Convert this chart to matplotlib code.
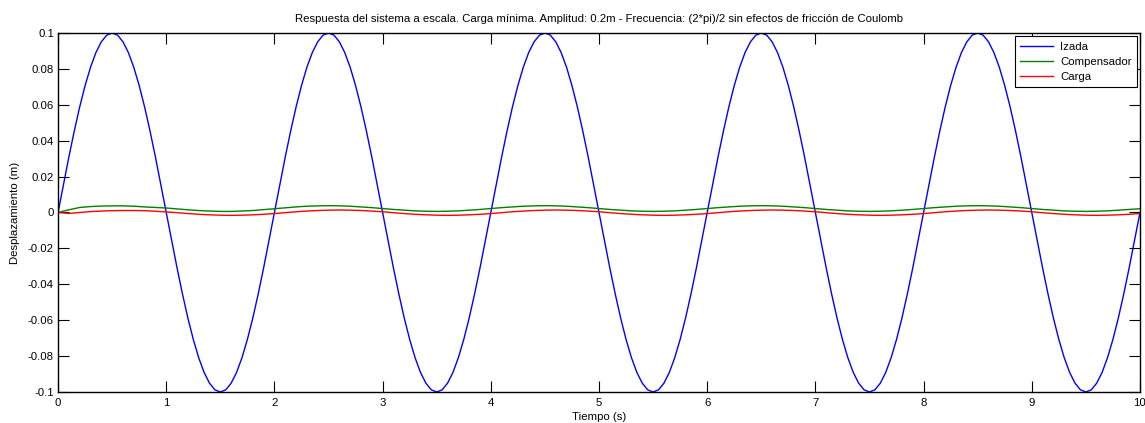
import matplotlib.pyplot as plt

plt.rcParams['font.family'] = ['Liberation Sans', 'DejaVu Sans']

# tiempo (s) para la izada, paso 0.05
t_izada = [i / 20 for i in range(201)]

# Izada (m)
izada = [
    0.0000, 0.0156, 0.0309, 0.0454, 0.0588, 0.0707, 0.0809, 0.0891, 0.0951, 0.0988,
    0.1000, 0.0988, 0.0951, 0.0891, 0.0809, 0.0707, 0.0588, 0.0454, 0.0309, 0.0156,
    0.0000, -0.0156, -0.0309, -0.0454, -0.0588, -0.0707, -0.0809, -0.0891, -0.0951, -0.0988,
    -0.1000, -0.0988, -0.0951, -0.0891, -0.0809, -0.0707, -0.0588, -0.0454, -0.0309, -0.0156,
    0.0000, 0.0156, 0.0309, 0.0454, 0.0588, 0.0707, 0.0809, 0.0891, 0.0951, 0.0988,
    0.1000, 0.0988, 0.0951, 0.0891, 0.0809, 0.0707, 0.0588, 0.0454, 0.0309, 0.0156,
    0.0000, -0.0156, -0.0309, -0.0454, -0.0588, -0.0707, -0.0809, -0.0891, -0.0951, -0.0988,
    -0.1000, -0.0988, -0.0951, -0.0891, -0.0809, -0.0707, -0.0588, -0.0454, -0.0309, -0.0156,
    0.0000, 0.0156, 0.0309, 0.0454, 0.0588, 0.0707, 0.0809, 0.0891, 0.0951, 0.0988,
    0.1000, 0.0988, 0.0951, 0.0891, 0.0809, 0.0707, 0.0588, 0.0454, 0.0309, 0.0156,
    0.0000, -0.0156, -0.0309, -0.0454, -0.0588, -0.0707, -0.0809, -0.0891, -0.0951, -0.0988,
    -0.1000, -0.0988, -0.0951, -0.0891, -0.0809, -0.0707, -0.0588, -0.0454, -0.0309, -0.0156,
    0.0000, 0.0156, 0.0309, 0.0454, 0.0588, 0.0707, 0.0809, 0.0891, 0.0951, 0.0988,
    0.1000, 0.0988, 0.0951, 0.0891, 0.0809, 0.0707, 0.0588, 0.0454, 0.0309, 0.0156,
    0.0000, -0.0156, -0.0309, -0.0454, -0.0588, -0.0707, -0.0809, -0.0891, -0.0951, -0.0988,
    -0.1000, -0.0988, -0.0951, -0.0891, -0.0809, -0.0707, -0.0588, -0.0454, -0.0309, -0.0156,
    0.0000, 0.0156, 0.0309, 0.0454, 0.0588, 0.0707, 0.0809, 0.0891, 0.0951, 0.0988,
    0.1000, 0.0988, 0.0951, 0.0891, 0.0809, 0.0707, 0.0588, 0.0454, 0.0309, 0.0156,
    0.0000, -0.0156, -0.0309, -0.0454, -0.0588, -0.0707, -0.0809, -0.0891, -0.0951, -0.0988,
    -0.1000, -0.0988, -0.0951, -0.0891, -0.0809, -0.0707, -0.0588, -0.0454, -0.0309, -0.0156,
    0.0000,
]

# tiempo (s) para compensador y carga, paso 0.1
t = [i / 10 for i in range(101)]

# Compensador (m)
compensador = [
    0.0000, 0.0015, 0.0028, 0.0033, 0.0036, 0.0037, 0.0037, 0.0035, 0.0031, 0.0028,
    0.0025, 0.0020, 0.0015, 0.0011, 0.0008, 0.0006, 0.0006, 0.0008, 0.0011, 0.0016,
    0.0021, 0.0026, 0.0031, 0.0035, 0.0037, 0.0038, 0.0037, 0.0035, 0.0031, 0.0027,
    0.0022, 0.0017, 0.0013, 0.0009, 0.0007, 0.0006, 0.0007, 0.0009, 0.0013, 0.0017,
    0.0022, 0.0027, 0.0031, 0.0035, 0.0037, 0.0038, 0.0037, 0.0035, 0.0031, 0.0027,
    0.0022, 0.0017, 0.0013, 0.0009, 0.0007, 0.0006, 0.0007, 0.0009, 0.0013, 0.0017,
    0.0022, 0.0027, 0.0031, 0.0035, 0.0037, 0.0038, 0.0037, 0.0035, 0.0031, 0.0027,
    0.0022, 0.0017, 0.0013, 0.0009, 0.0007, 0.0006, 0.0007, 0.0009, 0.0013, 0.0017,
    0.0022, 0.0027, 0.0031, 0.0035, 0.0037, 0.0038, 0.0037, 0.0035, 0.0031, 0.0027,
    0.0022, 0.0017, 0.0013, 0.0009, 0.0007, 0.0006, 0.0007, 0.0009, 0.0013, 0.0017,
    0.0021,
]

# Carga (m)
carga = [
    0.0000, -0.0005, 0.0000, 0.0005, 0.0008, 0.0010, 0.0011, 0.0011, 0.0010, 0.0007,
    0.0003, -0.0001, -0.0006, -0.0010, -0.0013, -0.0015, -0.0016, -0.0015, -0.0013, -0.0010,
    -0.0006, -0.0001, 0.0004, 0.0008, 0.0011, 0.0013, 0.0014, 0.0013, 0.0011, 0.0008,
    0.0004, -0.0001, -0.0006, -0.0010, -0.0013, -0.0015, -0.0016, -0.0015, -0.0013, -0.0010,
    -0.0006, -0.0001, 0.0004, 0.0008, 0.0011, 0.0013, 0.0014, 0.0013, 0.0011, 0.0008,
    0.0004, -0.0001, -0.0006, -0.0010, -0.0013, -0.0015, -0.0016, -0.0015, -0.0013, -0.0010,
    -0.0006, -0.0001, 0.0004, 0.0008, 0.0011, 0.0013, 0.0014, 0.0013, 0.0011, 0.0008,
    0.0004, -0.0001, -0.0006, -0.0010, -0.0013, -0.0015, -0.0016, -0.0015, -0.0013, -0.0010,
    -0.0006, -0.0001, 0.0004, 0.0008, 0.0011, 0.0013, 0.0014, 0.0013, 0.0011, 0.0008,
    0.0004, -0.0001, -0.0006, -0.0010, -0.0013, -0.0015, -0.0016, -0.0015, -0.0013, -0.0010,
    -0.0006,
]

xticks = list(range(11))
yticks = [0.1, 0.08, 0.06, 0.04, 0.02, 0, -0.02, -0.04, -0.06, -0.08, -0.1]
ytick_labels = ['0.1', '0.08', '0.06', '0.04', '0.02', '0',
                '-0.02', '-0.04', '-0.06', '-0.08', '-0.1']

fig = plt.figure(figsize=(11.45, 4.23), dpi=100)
ax = fig.add_axes([0.0507, 0.0733, 0.9449, 0.8487])

ax.plot(t_izada, izada, color='#0000ff', lw=1, label='Izada')
ax.plot(t, compensador, color='#008000', lw=1, label='Compensador')
ax.plot(t, carga, color='#ff0000', lw=1, label='Carga')

ax.set_xlim(0, 10)
ax.set_ylim(-0.1, 0.1)
ax.set_xticks(xticks)
ax.set_xticklabels([str(x) for x in xticks])
ax.set_yticks(yticks)
ax.set_yticklabels(ytick_labels)
ax.tick_params(direction='in', length=8, width=0.8, labelsize=8.2,
               top=True, right=True)
ax.tick_params(axis='x', pad=4)
ax.tick_params(axis='y', pad=3)
for s in ax.spines.values():
    s.set_linewidth(1)

ax.set_title('Respuesta del sistema a escala. Carga mínima. Amplitud: 0.2m - '
             'Frecuencia: (2*pi)/2 sin efectos de fricción de Coulomb',
             fontsize=8.2, pad=8)
ax.set_xlabel('Tiempo (s)', fontsize=8.2, labelpad=3)
ax.set_ylabel('Desplazamiento (m)', fontsize=8.2, labelpad=6)

leg = ax.legend(loc='upper right', fontsize=8.2, fancybox=False, framealpha=1,
                edgecolor='black', borderpad=0.45, labelspacing=0.45,
                handlelength=2.9, handletextpad=0.6, borderaxespad=0.3)
leg.get_frame().set_linewidth(0.8)

fig.savefig('out.png', dpi=100)
